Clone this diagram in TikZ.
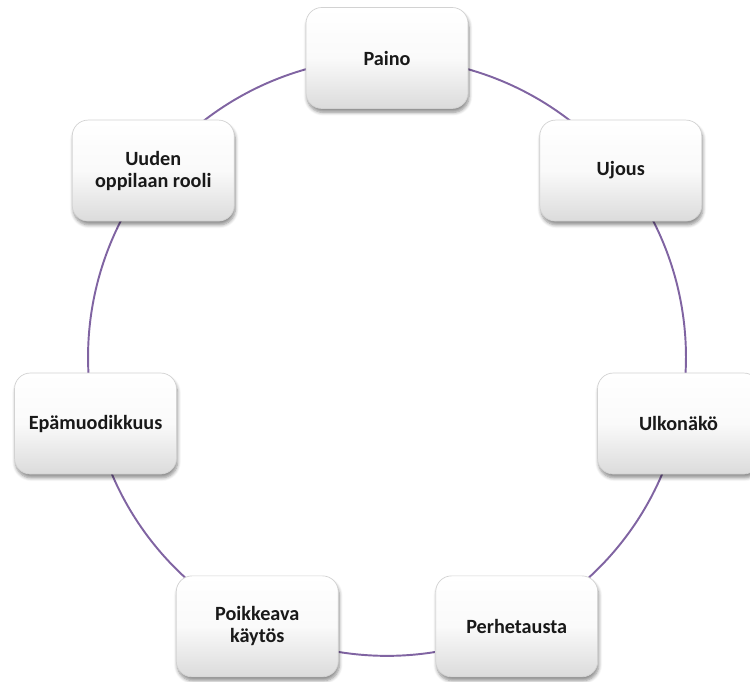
\documentclass[tikz,border=0pt]{standalone}
\usepackage{fontspec}
\setmainfont{Carlito}
\usetikzlibrary{shadows.blur,backgrounds,calc}

\definecolor{lila}{HTML}{8064A2}

\tikzset{
    syy/.style={rectangle, rounded corners=9pt, draw=gray!35, line width=0.4pt,
        top color=white, bottom color=gray!28, middle color=white!96!gray,
        minimum width=3.24cm, minimum height=2.02cm, align=center,
        text=black!90, font=\fontsize{11.5}{12.5}\selectfont\bfseries,
        blur shadow={shadow xshift=0.6pt, shadow yshift=-2.2pt, shadow blur steps=6, shadow opacity=45}},
    kehä/.style={draw=lila, line width=1.1pt}
}

\begin{document}
\begin{tikzpicture}[x=0.02cm, y=0.02cm]

    \useasboundingbox (0,0) rectangle (750,682);
    \clip (0,0) rectangle (750,682);

    \coordinate (keski) at (387,325);

    \foreach \nimi [count=\i from 0] in {Paino, Ujous, Ulkonäkö, Perhetausta, {Poikkeava\\käytös}, Epämuodikkuus, {Uuden\\oppilaan rooli}}
        \node[syy] (s\i) at ($(keski)+({90-\i*360/7}:299)$) {\nimi};

    \begin{scope}[on background layer]
        \foreach \i [evaluate=\i as \j using {int(mod(\i+1,7))}] in {0,...,6}
            \draw[kehä] (s\i.center) to[bend left=25.71, looseness=0.896] (s\j.center);
    \end{scope}

\end{tikzpicture}
\end{document}
